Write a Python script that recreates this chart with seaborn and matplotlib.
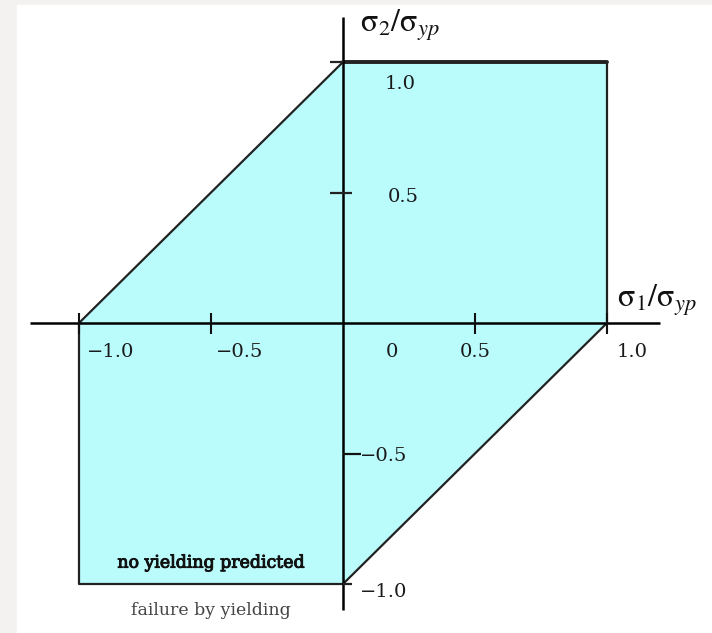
import matplotlib
matplotlib.use("Agg")
import matplotlib.pyplot as plt
from matplotlib.patches import Rectangle
import matplotlib.patheffects as pe
import seaborn as sns
import pandas as pd

# Yield boundary in the principal-stress plane (normalised by yield stress)
boundary_s1 = [-1.0, 0.0, 1.0, 1.0, 0.0, -1.0, -1.0]
boundary_s2 = [0.0, 1.0, 1.0, 0.0, -1.0, -1.0, 0.0]

# Axis tick values and their labels
x_ticks = [-1.0, -0.5, 0.5, 1.0]
x_tick_labels = ["\u22121.0", "\u22120.5", "0", "0.5", "1.0"]
y_ticks = [1.0, 0.5, -0.5, -1.0]
y_tick_labels = ["1.0", "0.5", "\u22120.5", "\u22121.0"]

region_inside = "no yielding predicted"
region_outside = "failure by yielding"
x_title = r"$\mathrm{\sigma}_{\mathit{1}}/\mathrm{\sigma}_{\mathit{yp}}$"
y_title = r"$\mathrm{\sigma}_{\mathit{2}}/\mathrm{\sigma}_{\mathit{yp}}$"

sns.set_style("white")
plt.rcParams["font.family"] = ["DejaVu Serif"]
plt.rcParams["mathtext.fontset"] = "stix"

W, H = 712, 633
fig = plt.figure(figsize=(W / 100, H / 100), dpi=100, facecolor="#f3f2f0")
fig.patches.append(Rectangle((17 / W, 0), 1 - 17 / W, 1 - 5 / H,
                             transform=fig.transFigure, color="white", zorder=-10))

ax = fig.add_axes([0, 0, 1, 1])
ax.set_facecolor("none")
ax.axis("off")

# pixel origin of the stress axes and the size of one unit
ox, oy, ux, uy = 343, 323, 264, 261
ax.set_xlim(-ox / ux, (W - ox) / ux)
ax.set_ylim(-(H - oy) / uy, oy / uy)

df = pd.DataFrame({"s1": boundary_s1, "s2": boundary_s2})

# shaded safe region
ax.fill(df["s1"], df["s2"], color="#bafbfc", zorder=1, lw=0)

# boundary outline
sns.lineplot(data=df, x="s1", y="s2", sort=False, estimator=None,
             color="#222222", lw=1.6, ax=ax, zorder=3)
# heavier top edge
sns.lineplot(x=boundary_s1[1:3], y=boundary_s2[1:3], sort=False, estimator=None,
             color="#222222", lw=2.8, ax=ax, zorder=3)

# coordinate axes
ax.plot([-1.186, 1.20], [0, 0], color="black", lw=1.8, zorder=4, solid_capstyle="butt")
ax.plot([0, 0], [1.172, -1.10], color="black", lw=1.8, zorder=4, solid_capstyle="butt")

# tick marks
ax.vlines(x_ticks, -0.042, 0.040, color="#111111", lw=1.5, zorder=4)
ax.hlines([1.0, 0.5, -1.0], [-0.05, -0.05, 0.0], [0.0, 0.035, 0.035],
          color="#222222", lw=1.6, zorder=4)
ax.hlines(-0.5, 0.0, 0.07, color="#111111", lw=1.6, zorder=4)

tick_fs = 14
x_label_pos = [-0.88, -0.39, 0.185, 0.50, 1.095]
for xp, lab in zip(x_label_pos, x_tick_labels):
    ax.text(xp, -0.112, lab, ha="center", va="center", fontsize=tick_fs,
            color="#1a1a1a", zorder=5)

y_label_pos = [(0.215, 0.915), (0.228, 0.482), (0.155, -0.51), (0.155, -1.03)]
for (xp, yp), lab in zip(y_label_pos, y_tick_labels):
    ax.text(xp, yp, lab, ha="center", va="center", fontsize=tick_fs,
            color="#1a1a1a", zorder=5)

# axis titles
ax.text(0.216, 1.142, y_title, ha="center", va="center", fontsize=23, color="#111111")
ax.text(1.19, 0.088, x_title, ha="center", va="center", fontsize=23, color="#111111")

# region captions
ax.text(-0.50, -0.92, region_inside, ha="center", va="center", fontsize=12.5,
        color="#111111", zorder=5,
        path_effects=[pe.withStroke(linewidth=0.7, foreground="#111111")])
ax.text(-0.50, -1.103, region_outside, ha="center", va="center", fontsize=12.5,
        color="#444444", zorder=5)

fig.savefig("out.png", dpi=100, facecolor=fig.get_facecolor())
